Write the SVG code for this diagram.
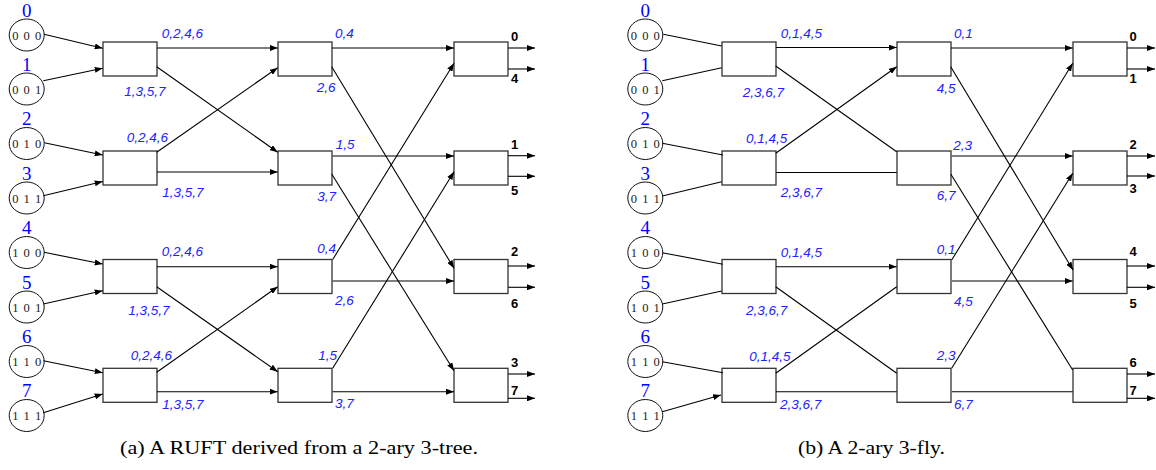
<svg xmlns="http://www.w3.org/2000/svg" width="1156" height="470" viewBox="0 0 1156 470">
<style>
.sw{fill:#fff;stroke:#333;stroke-width:1.3}
.nd{fill:#fff;stroke:#111;stroke-width:1}
.num{font-family:"Liberation Serif",serif;font-size:19px;fill:#0000ff;text-anchor:middle}
.bits{font-family:"Liberation Serif",serif;font-size:12.5px;fill:#222;text-anchor:middle;letter-spacing:1px}
.lb{font-family:"Liberation Sans",Arial,sans-serif;font-size:13.5px;font-style:italic;fill:#2222ff}
.out{font-family:"Liberation Sans",Arial,sans-serif;font-size:13px;font-weight:bold;fill:#000}
.cap{font-family:"Liberation Serif",serif;font-size:18px;fill:#000}
.ln{stroke:#000;stroke-width:1.1;fill:none}
.ar{marker-end:url(#ah)}
</style>
<defs>
<marker id="ah" markerUnits="userSpaceOnUse" markerWidth="8" markerHeight="6" refX="8" refY="3" orient="auto">
<path d="M0,0 L8,3 L0,6 z" fill="#000"/>
</marker>
</defs>

<!-- ===== Diagram (a) nodes ===== -->
<g id="a-n0"><text class="num" x="26.7" y="16.5">0</text><ellipse class="nd" cx="26.7" cy="35" rx="17.5" ry="16"/><text class="bits" x="27.2" y="39.5">0 0 0</text></g>
<g id="a-n1"><text class="num" x="26.7" y="70.5">1</text><ellipse class="nd" cx="26.7" cy="89" rx="17.5" ry="16"/><text class="bits" x="27.2" y="93.5">0 0 1</text></g>
<g id="a-n2"><text class="num" x="26.7" y="125">2</text><ellipse class="nd" cx="26.7" cy="143.5" rx="17.5" ry="16"/><text class="bits" x="27.2" y="148">0 1 0</text></g>
<g id="a-n3"><text class="num" x="26.7" y="179.5">3</text><ellipse class="nd" cx="26.7" cy="198" rx="17.5" ry="16"/><text class="bits" x="27.2" y="202.5">0 1 1</text></g>
<g id="a-n4"><text class="num" x="26.7" y="234">4</text><ellipse class="nd" cx="26.7" cy="252.5" rx="17.5" ry="16"/><text class="bits" x="27.2" y="257">1 0 0</text></g>
<g id="a-n5"><text class="num" x="26.7" y="288.5">5</text><ellipse class="nd" cx="26.7" cy="307" rx="17.5" ry="16"/><text class="bits" x="27.2" y="311.5">1 0 1</text></g>
<g id="a-n6"><text class="num" x="26.7" y="343">6</text><ellipse class="nd" cx="26.7" cy="361.5" rx="17.5" ry="16"/><text class="bits" x="27.2" y="366">1 1 0</text></g>
<g id="a-n7"><text class="num" x="26.7" y="397">7</text><ellipse class="nd" cx="26.7" cy="415.5" rx="17.5" ry="16"/><text class="bits" x="27.2" y="420">1 1 1</text></g>

<g id="a-s1-0"><rect class="sw" x="103" y="42" width="54" height="34"/></g>
<g id="a-s1-1"><rect class="sw" x="103" y="151" width="54" height="34"/></g>
<g id="a-s1-2"><rect class="sw" x="103" y="259.5" width="54" height="34"/></g>
<g id="a-s1-3"><rect class="sw" x="103" y="368.3" width="54" height="34"/></g>
<g id="a-s2-0"><rect class="sw" x="278" y="42" width="54" height="34"/></g>
<g id="a-s2-1"><rect class="sw" x="278" y="151" width="54" height="34"/></g>
<g id="a-s2-2"><rect class="sw" x="278" y="259.5" width="54" height="34"/></g>
<g id="a-s2-3"><rect class="sw" x="278" y="368.3" width="54" height="34"/></g>
<g id="a-s3-0"><rect class="sw" x="454" y="42" width="54" height="34"/><text class="out" x="511" y="40.5">0</text><text class="out" x="511" y="83">4</text></g>
<g id="a-s3-1"><rect class="sw" x="454" y="151" width="54" height="34"/><text class="out" x="511" y="149">1</text><text class="out" x="511" y="195">5</text></g>
<g id="a-s3-2"><rect class="sw" x="454" y="259.5" width="54" height="34"/><text class="out" x="511" y="256">2</text><text class="out" x="511" y="308">6</text></g>
<g id="a-s3-3"><rect class="sw" x="454" y="368.3" width="54" height="34"/><text class="out" x="511" y="367">3</text><text class="out" x="511" y="395">7</text></g>

<!-- ===== Diagram (b) nodes ===== -->
<g id="b-n0"><text class="num" x="645.3" y="16.5">0</text><ellipse class="nd" cx="645.3" cy="35" rx="17.5" ry="16"/><text class="bits" x="645.8" y="39.5">0 0 0</text></g>
<g id="b-n1"><text class="num" x="645.3" y="70.5">1</text><ellipse class="nd" cx="645.3" cy="89" rx="17.5" ry="16"/><text class="bits" x="645.8" y="93.5">0 0 1</text></g>
<g id="b-n2"><text class="num" x="645.3" y="125">2</text><ellipse class="nd" cx="645.3" cy="143.5" rx="17.5" ry="16"/><text class="bits" x="645.8" y="148">0 1 0</text></g>
<g id="b-n3"><text class="num" x="645.3" y="179.5">3</text><ellipse class="nd" cx="645.3" cy="198" rx="17.5" ry="16"/><text class="bits" x="645.8" y="202.5">0 1 1</text></g>
<g id="b-n4"><text class="num" x="645.3" y="234">4</text><ellipse class="nd" cx="645.3" cy="252.5" rx="17.5" ry="16"/><text class="bits" x="645.8" y="257">1 0 0</text></g>
<g id="b-n5"><text class="num" x="645.3" y="288.5">5</text><ellipse class="nd" cx="645.3" cy="307" rx="17.5" ry="16"/><text class="bits" x="645.8" y="311.5">1 0 1</text></g>
<g id="b-n6"><text class="num" x="645.3" y="343">6</text><ellipse class="nd" cx="645.3" cy="361.5" rx="17.5" ry="16"/><text class="bits" x="645.8" y="366">1 1 0</text></g>
<g id="b-n7"><text class="num" x="645.3" y="397">7</text><ellipse class="nd" cx="645.3" cy="415.5" rx="17.5" ry="16"/><text class="bits" x="645.8" y="420">1 1 1</text></g>

<g id="b-s1-0"><rect class="sw" x="722" y="42" width="54" height="34"/></g>
<g id="b-s1-1"><rect class="sw" x="722" y="151" width="54" height="34"/></g>
<g id="b-s1-2"><rect class="sw" x="722" y="259.5" width="54" height="34"/></g>
<g id="b-s1-3"><rect class="sw" x="722" y="368.3" width="54" height="34"/></g>
<g id="b-s2-0"><rect class="sw" x="897" y="42" width="54" height="34"/></g>
<g id="b-s2-1"><rect class="sw" x="897" y="151" width="54" height="34"/></g>
<g id="b-s2-2"><rect class="sw" x="897" y="259.5" width="54" height="34"/></g>
<g id="b-s2-3"><rect class="sw" x="897" y="368.3" width="54" height="34"/></g>
<g id="b-s3-0"><rect class="sw" x="1073" y="42" width="54" height="34"/><text class="out" x="1129.5" y="40.5">0</text><text class="out" x="1129.5" y="83">1</text></g>
<g id="b-s3-1"><rect class="sw" x="1073" y="151" width="54" height="34"/><text class="out" x="1129.5" y="149.3">2</text><text class="out" x="1129.5" y="193.3">3</text></g>
<g id="b-s3-2"><rect class="sw" x="1073" y="259.5" width="54" height="34"/><text class="out" x="1129.5" y="256">4</text><text class="out" x="1129.5" y="308">5</text></g>
<g id="b-s3-3"><rect class="sw" x="1073" y="368.3" width="54" height="34"/><text class="out" x="1129.5" y="366.5">6</text><text class="out" x="1129.5" y="395">7</text></g>

<!-- ===== Connectors ===== -->
<g id="connectors">
<!-- (a) inputs -->
<line class="ln ar" x1="44" y1="34.3" x2="102.7" y2="48.3"/>
<line class="ln ar" x1="43.3" y1="80.7" x2="102.7" y2="68.3"/>
<line class="ln ar" x1="44.3" y1="142.7" x2="102.7" y2="155"/>
<line class="ln ar" x1="43.3" y1="195.7" x2="102.7" y2="181.5"/>
<line class="ln ar" x1="44" y1="252.3" x2="102.7" y2="264"/>
<line class="ln ar" x1="43.3" y1="304" x2="102.7" y2="290.7"/>
<line class="ln ar" x1="43.3" y1="360.7" x2="102.7" y2="372.7"/>
<line class="ln ar" x1="43.3" y1="412.7" x2="102.7" y2="394"/>
<!-- (a) stage1 -> stage2 -->
<line class="ln ar" x1="157" y1="48" x2="277.7" y2="48"/>
<line class="ln ar" x1="156.7" y1="66.7" x2="277.7" y2="152.3"/>
<line class="ln ar" x1="156.7" y1="152.3" x2="277.7" y2="67.7"/>
<line class="ln ar" x1="157" y1="172" x2="277.7" y2="172"/>
<line class="ln ar" x1="157" y1="266.7" x2="277.7" y2="266.7"/>
<line class="ln ar" x1="156.7" y1="286.7" x2="277.7" y2="371.7"/>
<line class="ln ar" x1="156.7" y1="372.3" x2="277.7" y2="286.7"/>
<line class="ln ar" x1="157" y1="391.7" x2="277.7" y2="391.7"/>
<!-- (a) stage2 -> stage3 -->
<line class="ln ar" x1="332" y1="48" x2="454" y2="48"/>
<line class="ln ar" x1="331.7" y1="66.7" x2="454" y2="268.3"/>
<line class="ln ar" x1="332.7" y1="156" x2="454" y2="156"/>
<line class="ln ar" x1="331.7" y1="174" x2="454" y2="370.7"/>
<line class="ln ar" x1="332.7" y1="259.5" x2="454" y2="63.3"/>
<line class="ln ar" x1="332.7" y1="281" x2="454" y2="281"/>
<line class="ln ar" x1="332.7" y1="368.3" x2="454" y2="171.7"/>
<line class="ln ar" x1="332.7" y1="391.7" x2="454" y2="391.7"/>
<!-- (a) outputs -->
<line class="ln ar" x1="508" y1="48" x2="535" y2="48"/>
<line class="ln ar" x1="508" y1="69" x2="535" y2="69"/>
<line class="ln ar" x1="508" y1="155.7" x2="535" y2="155.7"/>
<line class="ln ar" x1="508" y1="176.3" x2="535" y2="176.3"/>
<line class="ln ar" x1="508" y1="266" x2="535" y2="266"/>
<line class="ln ar" x1="508" y1="287.3" x2="535" y2="287.3"/>
<line class="ln ar" x1="508" y1="374" x2="535" y2="374"/>
<line class="ln ar" x1="508" y1="398.3" x2="535" y2="398.3"/>

<!-- (b) inputs -->
<line class="ln" x1="663.3" y1="34.3" x2="721.7" y2="46"/>
<line class="ln" x1="662.3" y1="80.7" x2="721.7" y2="67.7"/>
<line class="ln" x1="662.3" y1="143.3" x2="723" y2="155"/>
<line class="ln" x1="662.3" y1="196" x2="721.7" y2="181.7"/>
<line class="ln" x1="662.3" y1="252.7" x2="723" y2="264.3"/>
<line class="ln" x1="662.3" y1="304" x2="721.7" y2="291"/>
<line class="ln" x1="662.3" y1="361.7" x2="723" y2="372.7"/>
<line class="ln ar" x1="662.3" y1="411.7" x2="721" y2="395"/>
<!-- (b) stage1 -> stage2 -->
<line class="ln ar" x1="776" y1="47.5" x2="896.7" y2="47.5"/>
<line class="ln" x1="775.7" y1="66" x2="896.7" y2="151.7"/>
<line class="ln ar" x1="775.7" y1="153.3" x2="896.7" y2="66.7"/>
<line class="ln" x1="776" y1="172.5" x2="896.7" y2="172.5"/>
<line class="ln ar" x1="776" y1="266.7" x2="896.7" y2="266.7"/>
<line class="ln" x1="775.7" y1="286.7" x2="896.7" y2="373.3"/>
<line class="ln" x1="775.7" y1="373.3" x2="896.7" y2="286.7"/>
<line class="ln" x1="776" y1="391.7" x2="896.7" y2="391.7"/>
<!-- (b) stage2 -> stage3 -->
<line class="ln ar" x1="951" y1="48" x2="1072.7" y2="48"/>
<line class="ln ar" x1="950.7" y1="66.7" x2="1073" y2="270"/>
<line class="ln ar" x1="951.7" y1="156" x2="1072.7" y2="156"/>
<line class="ln" x1="950.7" y1="174" x2="1072.7" y2="370"/>
<line class="ln ar" x1="951.7" y1="260" x2="1072.7" y2="63.3"/>
<line class="ln ar" x1="952" y1="281" x2="1072.7" y2="281"/>
<line class="ln ar" x1="951.7" y1="368.3" x2="1072.7" y2="173.3"/>
<line class="ln" x1="952" y1="391.7" x2="1072.7" y2="391.7"/>
<!-- (b) outputs -->
<line class="ln ar" x1="1127" y1="48" x2="1155" y2="48"/>
<line class="ln ar" x1="1127" y1="69" x2="1155" y2="69"/>
<line class="ln ar" x1="1127" y1="156" x2="1155" y2="156"/>
<line class="ln ar" x1="1127" y1="176" x2="1155" y2="176"/>
<line class="ln ar" x1="1127" y1="266" x2="1155" y2="266"/>
<line class="ln ar" x1="1127" y1="287.3" x2="1155" y2="287.3"/>
<line class="ln ar" x1="1127" y1="374" x2="1155" y2="374"/>
<line class="ln ar" x1="1127" y1="398.3" x2="1155" y2="398.3"/>
</g>

<!-- ===== Connector labels ===== -->
<g id="labels-a">
<text class="lb" x="161.7" y="37.5">0,2,4,6</text>
<text class="lb" x="124.3" y="96">1,3,5,7</text>
<text class="lb" x="126.7" y="141.5">0,2,4,6</text>
<text class="lb" x="162.3" y="197">1,3,5,7</text>
<text class="lb" x="161.7" y="256">0,2,4,6</text>
<text class="lb" x="128.3" y="315">1,3,5,7</text>
<text class="lb" x="130.7" y="360">0,2,4,6</text>
<text class="lb" x="162.3" y="408.5">1,3,5,7</text>
<text class="lb" x="335" y="38">0,4</text>
<text class="lb" x="316.7" y="91.5">2,6</text>
<text class="lb" x="335.7" y="149">1,5</text>
<text class="lb" x="317.3" y="201">3,7</text>
<text class="lb" x="317.3" y="253">0,4</text>
<text class="lb" x="335" y="305">2,6</text>
<text class="lb" x="318.3" y="360">1,5</text>
<text class="lb" x="335" y="408">3,7</text>
</g>
<g id="labels-b">
<text class="lb" x="780.7" y="38">0,1,4,5</text>
<text class="lb" x="742.7" y="97">2,3,6,7</text>
<text class="lb" x="746" y="142.5">0,1,4,5</text>
<text class="lb" x="780.7" y="197">2,3,6,7</text>
<text class="lb" x="780.7" y="256.5">0,1,4,5</text>
<text class="lb" x="746" y="315">2,3,6,7</text>
<text class="lb" x="749.3" y="360.5">0,1,4,5</text>
<text class="lb" x="780" y="409">2,3,6,7</text>
<text class="lb" x="954" y="38">0,1</text>
<text class="lb" x="936.7" y="93">4,5</text>
<text class="lb" x="953.3" y="149.5">2,3</text>
<text class="lb" x="936.7" y="200">6,7</text>
<text class="lb" x="936.7" y="253.5">0,1</text>
<text class="lb" x="954" y="305.5">4,5</text>
<text class="lb" x="936.7" y="359.5">2,3</text>
<text class="lb" x="954" y="409">6,7</text>
</g>

<text class="cap" x="120" y="454" textLength="358" lengthAdjust="spacingAndGlyphs">(a) A RUFT derived from a 2-ary 3-tree.</text>
<text class="cap" x="798" y="454" textLength="147" lengthAdjust="spacingAndGlyphs">(b) A 2-ary 3-fly.</text>
</svg>
